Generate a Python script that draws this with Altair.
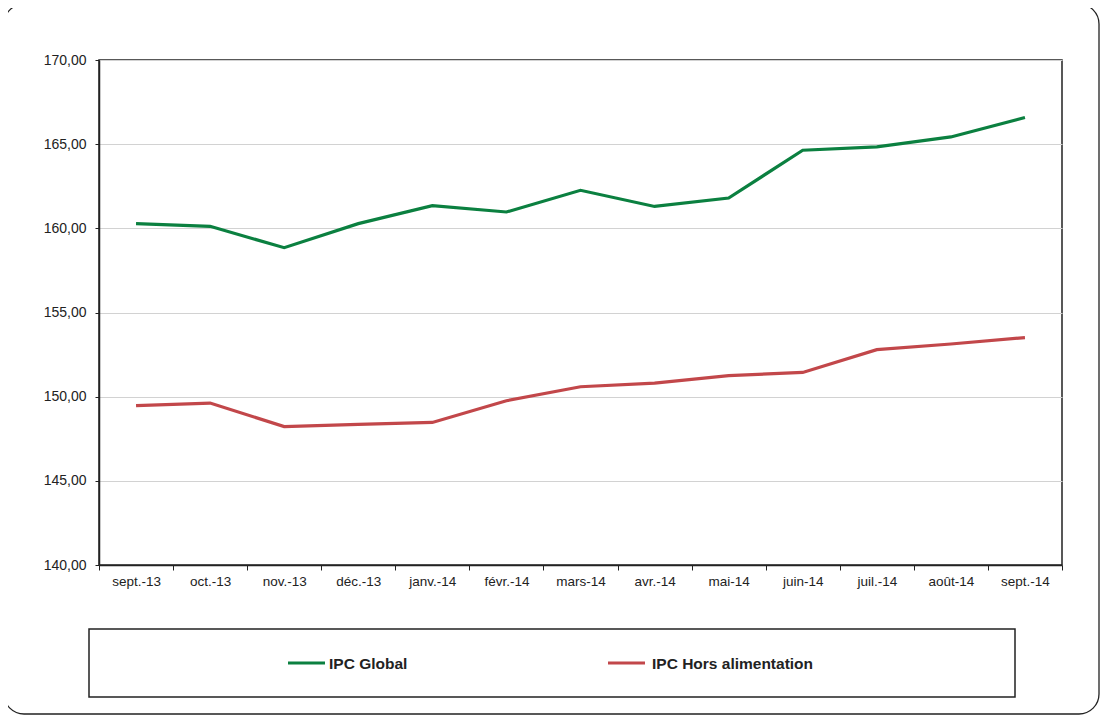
import altair as alt
import pandas as pd

mois = ["sept.-13", "oct.-13", "nov.-13", "déc.-13", "janv.-14", "févr.-14", "mars-14",
        "avr.-14", "mai-14", "juin-14", "juil.-14", "août-14", "sept.-14"]
ipc_global = [160.28, 160.12, 158.85, 160.28, 161.35, 160.97, 162.26,
              161.30, 161.80, 164.64, 164.84, 165.43, 166.58]
ipc_hors_alim = [149.47, 149.62, 148.22, 148.35, 148.47, 149.76, 150.59,
                 150.81, 151.25, 151.44, 152.79, 153.13, 153.51]
series = ["IPC Global", "IPC Hors alimentation"]
colors = ["#0b8040", "#c2474a"]
y_ticks = [140, 145, 150, 155, 160, 165, 170]

rows = []
for m, g, h in zip(mois, ipc_global, ipc_hors_alim):
    rows.append({"mois": m, "serie": series[0], "valeur": g})
    rows.append({"mois": m, "serie": series[1], "valeur": h})
df = pd.DataFrame(rows)
leg = pd.DataFrame({"serie": series})

W, H = 963, 505
FONT = "Liberation Sans"
color_scale = alt.Scale(domain=series, range=colors)

lines = alt.Chart(df).mark_line(strokeWidth=3.2, clip=False).encode(
    x=alt.X("mois:N", sort=mois, bandPosition=0.5,
            scale=alt.Scale(type="band", paddingInner=0, paddingOuter=0),
            axis=alt.Axis(title=None, labelAngle=0, tickBand="extent", tickSize=5,
                          labelFontSize=13.5, labelFont=FONT, labelColor="#222",
                          labelPadding=4, domainColor="#222", domainWidth=1.5,
                          tickColor="#222", grid=False)),
    y=alt.Y("valeur:Q", scale=alt.Scale(domain=[140, 170], nice=False, zero=False),
            axis=alt.Axis(title=None, values=y_ticks, tickSize=4, labelPadding=9,
                          labelExpr="replace(format(datum.value, '.2f'), '.', ',')",
                          labelFontSize=14, labelFont=FONT, labelColor="#222",
                          domainColor="#222", domainWidth=1.5, tickColor="#222",
                          grid=True, gridColor="#d2d2d2", gridWidth=1)),
    color=alt.Color("serie:N", scale=color_scale, legend=None),
    detail="serie:N",
)

frame = alt.Chart(leg.head(1)).mark_rect(
    fill=None, stroke="#222", strokeWidth=1.3, cornerRadius=20, clip=False
).encode(x=alt.value(-95), x2=alt.value(1000), y=alt.value(-56), y2=alt.value(654))

leg_box = alt.Chart(leg.head(1)).mark_rect(
    fill="white", stroke="#222", strokeWidth=1.5, clip=False
).encode(x=alt.value(-10), x2=alt.value(916), y=alt.value(569), y2=alt.value(637))

leg_pos = {series[0]: (189, 226, 230), series[1]: (509, 546, 553)}
leg_layers = []
for s in series:
    x1, x2, xt = leg_pos[s]
    base = alt.Chart(leg).transform_filter(alt.datum.serie == s)
    leg_layers.append(base.mark_rule(strokeWidth=3.2, clip=False).encode(
        x=alt.value(x1), x2=alt.value(x2), y=alt.value(603),
        color=alt.Color("serie:N", scale=color_scale, legend=None)))
    leg_layers.append(base.mark_text(align="left", baseline="middle", font=FONT,
                                     fontSize=15.5, fontWeight="bold", color="#222",
                                     clip=False).encode(
        x=alt.value(xt), y=alt.value(604), text="serie:N"))

chart = alt.layer(frame, lines, leg_box, *leg_layers).properties(
    width=W, height=H,
    autosize=alt.AutoSizeParams(type="none"),
    padding={"left": 91, "top": 52, "right": 38, "bottom": 150},
    background="white",
).configure_view(stroke="#222", strokeWidth=1.5)

chart.save("out.html", embed_options={"renderer": "svg", "actions": False})
